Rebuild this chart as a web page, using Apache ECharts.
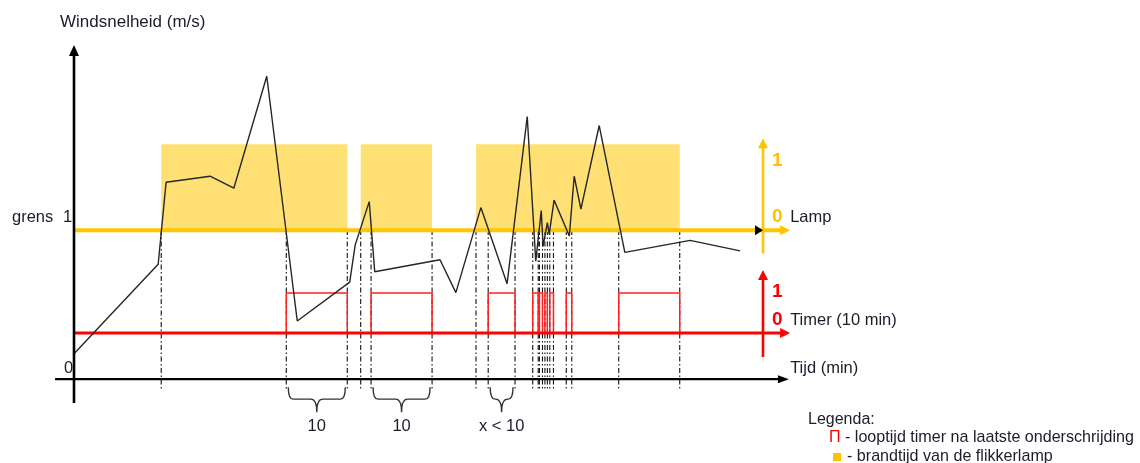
<!DOCTYPE html>
<html><head><meta charset="utf-8">
<script src="https://cdn.jsdelivr.net/npm/echarts@6/dist/echarts.min.js"></script>
<style>html,body{margin:0;padding:0;background:#fff}#c{width:1140px;height:463px}</style>
</head><body><div id="c"></div>
<script>
// ---- data (time in minutes, wind speed relative to threshold "grens" = 1) ----
const windTime  = [0, 13.8, 15.1, 22.3, 26.2, 31.6, 36.6, 45.2, 46.1, 48.4, 49.3, 60.0, 62.6, 66.7, 71.0, 74.3, 75.7, 76.6, 76.9, 77.6, 77.9, 78.7, 81.2, 82.0, 83.1, 86.1, 90.3, 101.0, 109.2];
const windSpeed = [0.17, 0.77, 1.32, 1.36, 1.28, 2.03, 0.39, 0.65, 0.90, 1.19, 0.72, 0.80, 0.58, 1.15, 0.64, 1.76, 0.79, 1.13, 0.89, 1.05, 0.97, 1.20, 0.96, 1.36, 1.14, 1.70, 0.85, 0.93, 0.86];
const lampStart  = [14.3, 47.0, 65.9];
const lampEnd    = [44.8, 58.7, 99.3];
const timerStart = [34.8, 48.7, 67.9, 75.2, 76.3, 77.2, 78.0, 80.7, 89.3];
const timerEnd   = [44.8, 58.7, 72.3, 76.1, 76.8, 77.6, 78.6, 81.6, 99.3];
const braceStart = [34.8, 48.7, 67.9];
const braceEnd   = [44.8, 58.7, 72.3];
const braceLabels = ['10', '10', 'x < 10'];
const yLabels = {axis: 'Windsnelheid (m/s)', grens: 'grens', one: '1', zero: '0'};
const rightLabels = {lamp: 'Lamp', timer: 'Timer (10 min)', time: 'Tijd (min)'};
const legendTitle = 'Legenda:';
const legendTimer = '- looptijd timer na laatste onderschrijding';
const legendLamp = '- brandtijd van de flikkerlamp';

const FONT = '"Liberation Sans", Arial, sans-serif';
const YEL = '#FFC600', BLOCK = '#FFE074', RED = '#FF0000', INK = '#1c1c2a';
const AXIS_T = 112.95, ARROW_T = 117.4;

const edges = Array.from(new Set([].concat(lampStart, lampEnd, timerStart, timerEnd))).sort((a,b)=>a-b);

const chart = echarts.init(document.getElementById('c'));
chart.setOption({
  animation: false,
  grid: {left: 49.6, right: 334, top: 36, bottom: 54},
  xAxis: {type: 'value', min: -4, max: 120, show: false},
  yAxis: [
    {type: 'value', min: -0.2, max: 2.3, show: false},
    {type: 'value', min: -2.08, max: 2.26, show: false},
    {type: 'value', min: -1.9, max: 7.425, show: false}
  ],
  series: [
    { // lamp on blocks
      type: 'custom', xAxisIndex: 0, yAxisIndex: 1, z: 1, silent: true,
      encode: {x: [0, 1]},
      data: lampStart.map((s, i) => [s, lampEnd[i]]),
      renderItem: (p, api) => {
        const a = api.coord([api.value(0), 1]), b = api.coord([api.value(1), 0]);
        return {type: 'rect', shape: {x: a[0], y: a[1], width: b[0] - a[0], height: b[1] - a[1]}, style: {fill: BLOCK}};
      }
    },
    { // dashed crossing lines
      type: 'custom', xAxisIndex: 0, yAxisIndex: 0, z: 2, silent: true,
      encode: {x: 0},
      data: edges.map(t => [t]),
      renderItem: (p, api) => {
        const a = api.coord([api.value(0), 1]), b = api.coord([api.value(0), -0.07]);
        return {type: 'line', shape: {x1: a[0], y1: a[1], x2: b[0], y2: b[1]},
          style: {stroke: '#111', lineWidth: 1.1, lineDash: [5, 2.5, 1.5, 2.5]}};
      }
    },
    { // timer pulses
      type: 'custom', xAxisIndex: 0, yAxisIndex: 2, z: 4, silent: true,
      encode: {x: [0, 1]},
      data: timerStart.map((s, i) => [s, timerEnd[i]]),
      renderItem: (p, api) => {
        const a0 = api.coord([api.value(0), 0]), a1 = api.coord([api.value(0), 1]);
        const b1 = api.coord([api.value(1), 1]), b0 = api.coord([api.value(1), 0]);
        return {type: 'polyline', shape: {points: [a0, a1, b1, b0]},
          style: {stroke: '#FF2020', lineWidth: 1.5, fill: null}};
      }
    },
    { // braces under time axis
      type: 'custom', xAxisIndex: 0, yAxisIndex: 0, z: 6, silent: true,
      encode: {x: [0, 1]},
      data: braceStart.map((s, i) => [s, braceEnd[i]]),
      renderItem: (p, api) => {
        const a = api.coord([api.value(0), 0]), b = api.coord([api.value(1), 0]);
        const x1 = a[0] + 2, x2 = b[0] - 2, xm = (x1 + x2) / 2;
        const y0 = a[1] + 8, y1 = a[1] + 20, y2 = a[1] + 33;
        const d = `M${x1} ${y0} Q${x1} ${y1} ${x1+5} ${y1} L${xm-6} ${y1} Q${xm} ${y1} ${xm} ${y2} ` +
                  `M${xm} ${y2} Q${xm} ${y1} ${xm+6} ${y1} L${x2-5} ${y1} Q${x2} ${y1} ${x2} ${y0}`;
        return {type: 'group', children: [
          {type: 'path', shape: {pathData: d}, style: {stroke: '#333', lineWidth: 1.4, fill: null}},
          {type: 'text', style: {text: braceLabels[p.dataIndex], x: xm, y: a[1] + 47,
            font: '16.5px ' + FONT, fill: INK, align: 'center', verticalAlign: 'middle',
            textAlign: 'center', textVerticalAlign: 'middle'}}
        ]};
      }
    },
    { // wind speed
      type: 'line', xAxisIndex: 0, yAxisIndex: 0, z: 20, silent: true, clip: false,
      showSymbol: false, symbol: 'none',
      data: windTime.map((t, i) => [t, windSpeed[i]]),
      lineStyle: {color: '#262626', width: 1.4}
    }
  ]
});

function P(t, v, yi) { return chart.convertToPixel({xAxisIndex: 0, yAxisIndex: yi || 0}, [t, v]); }
function seg(a, b, color, w, z) { return {type: 'line', z: z, silent: true, shape: {x1: a[0], y1: a[1], x2: b[0], y2: b[1]}, style: {stroke: color, lineWidth: w}}; }
function tri(pts, color, z) { return {type: 'polygon', z: z, silent: true, shape: {points: pts}, style: {fill: color}}; }
function txt(s, x, y, extra) {
  return {type: 'text', z: 40, silent: true, style: Object.assign({text: s, x: x, y: y, font: '16.5px ' + FONT, fill: INK,
    align: 'left', verticalAlign: 'middle', textAlign: 'left', textVerticalAlign: 'middle'}, extra || {})};
}

const O = P(0, 0), yTop = P(0, 2.24), yBot = P(0, -0.16);
const xl = P(-3.1, 0), xr = P(117.2, 0);
const L0 = P(0, 0, 1), Lend = P(ARROW_T, 0, 1), LaxB = P(AXIS_T, -0.27, 1), LaxT = P(AXIS_T, 1.07, 1);
const T0 = P(0, 0, 2), Tend = P(ARROW_T, 0, 2), TaxB = P(AXIS_T, -0.6, 2), TaxT = P(AXIS_T, 1.575, 2);
const L1 = P(AXIS_T, 0.81, 1), T1 = P(AXIS_T, 1.02, 2);
const grensY = P(0, 1)[1];

const g = [];
// main axes
g.push(seg([O[0], yBot[1]], [O[0], yTop[1] + 8], '#000', 2.6, 30));
g.push(tri([[yTop[0], yTop[1]], [yTop[0] - 5, yTop[1] + 11], [yTop[0] + 5, yTop[1] + 11]], '#000', 31));
g.push(seg(xl, [xr[0] - 8, xr[1]], '#000', 2.4, 30));
g.push(tri([[xr[0], xr[1]], [xr[0] - 11, xr[1] - 4], [xr[0] - 11, xr[1] + 4]], '#000', 31));
// lamp baseline & axis
g.push(seg(L0, [Lend[0] - 8, Lend[1]], YEL, 4, 3));
g.push(tri([[Lend[0], Lend[1]], [Lend[0] - 10, Lend[1] - 5], [Lend[0] - 10, Lend[1] + 5]], YEL, 31));
g.push(seg(LaxB, [LaxT[0], LaxT[1] + 8], YEL, 2.6, 30));
g.push(tri([[LaxT[0], LaxT[1]], [LaxT[0] - 5, LaxT[1] + 10], [LaxT[0] + 5, LaxT[1] + 10]], YEL, 31));
g.push(tri([[LaxB[0], L0[1]], [LaxB[0] - 8, L0[1] - 5], [LaxB[0] - 8, L0[1] + 5]], '#000', 32));
// timer baseline & axis
g.push(seg(T0, [Tend[0] - 8, Tend[1]], RED, 3, 5));
g.push(tri([[Tend[0], Tend[1]], [Tend[0] - 10, Tend[1] - 5], [Tend[0] - 10, Tend[1] + 5]], RED, 31));
g.push(seg(TaxB, [TaxT[0], TaxT[1] + 8], RED, 2.6, 30));
g.push(tri([[TaxT[0], TaxT[1]], [TaxT[0] - 5, TaxT[1] + 10], [TaxT[0] + 5, TaxT[1] + 10]], RED, 31));
// left labels
g.push(txt(yLabels.axis, O[0] - 14, yTop[1] - 23, {font: '17px ' + FONT}));
g.push(txt(yLabels.grens, 12, grensY - 13));
g.push(txt(yLabels.one, O[0] - 11, grensY - 13));
g.push(txt(yLabels.zero, O[0] - 10, O[1] - 11));
// right labels
g.push(txt('1', LaxB[0] + 9, L1[1], {font: 'bold 19px ' + FONT, fill: '#FFC000'}));
g.push(txt('0', LaxB[0] + 9, L0[1] - 13, {font: 'bold 19px ' + FONT, fill: '#FFC000'}));
g.push(txt(rightLabels.lamp, Lend[0], L0[1] - 13));
g.push(txt('1', TaxB[0] + 9, T1[1], {font: 'bold 19px ' + FONT, fill: RED}));
g.push(txt('0', TaxB[0] + 9, T0[1] - 13, {font: 'bold 19px ' + FONT, fill: RED}));
g.push(txt(rightLabels.timer, Tend[0], T0[1] - 13));
g.push(txt(rightLabels.time, Tend[0], O[1] - 11));
// legend
g.push(txt(legendTitle, 808, 420, {font: '16px ' + FONT}));
g.push(txt('Π', 829, 438, {font: '16px ' + FONT, fill: RED}));
g.push(txt(legendTimer, 845, 438, {font: '16.1px ' + FONT}));
g.push({type: 'rect', z: 40, silent: true, shape: {x: 833, y: 453, width: 8, height: 8}, style: {fill: '#FFC000'}});
g.push(txt(legendLamp, 847, 457, {font: '16.1px ' + FONT}));

chart.setOption({graphic: {elements: g}});
</script>
</body></html>
